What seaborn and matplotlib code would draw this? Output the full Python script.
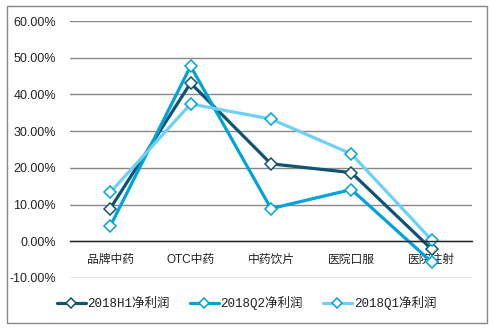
import matplotlib
matplotlib.use("Agg")
import matplotlib.pyplot as plt
import seaborn as sns
import pandas as pd
from matplotlib.patches import Rectangle
from matplotlib.ticker import FuncFormatter

categories = ["品牌中药", "OTC中药", "中药饮片", "医院口服", "医院注射"]
series_names = ["2018H1净利润", "2018Q2净利润", "2018Q1净利润"]
h1_values = [0.089, 0.431, 0.211, 0.187, -0.022]
q2_values = [0.041, 0.477, 0.089, 0.141, -0.057]
q1_values = [0.133, 0.374, 0.333, 0.238, 0.003]
y_ticks = [-0.10, 0.0, 0.10, 0.20, 0.30, 0.40, 0.50, 0.60]

line_colors = ["#0F5470", "#00A3DC", "#6FD0F5"]
edge_colors = ["#0F5470", "#00A3DC", "#00A3DC"]

sns.set_style("white")
plt.rcParams['font.family'] = ['Liberation Sans', 'Noto Sans CJK SC', 'DejaVu Sans']

fig = plt.figure(figsize=(4.93, 3.28), dpi=100)
ax = fig.add_axes([70/493, 1-278/328, 402/493, 257/328])

for name, vals, lc, ec in zip(series_names, [h1_values, q2_values, q1_values], line_colors, edge_colors):
    df = pd.DataFrame({"cat": categories, "val": vals})
    sns.lineplot(data=df, x="cat", y="val", ax=ax, color=lc, linewidth=2.3,
                 marker="D", markersize=6.5, markerfacecolor="white",
                 markeredgecolor=ec, markeredgewidth=1.1, label=name, sort=False)

ax.set_xlim(-0.5, 4.5)
ax.set_ylim(-0.10, 0.60)
ax.set_yticks(y_ticks)
ax.yaxis.set_major_formatter(FuncFormatter(lambda v, p: f"{v*100:.2f}%"))
ax.grid(axis="y", color="#868686", linewidth=1)
ax.set_axisbelow(True)
for s in ["left", "right", "top"]:
    ax.spines[s].set_visible(False)
ax.spines["bottom"].set_position(("data", 0))
ax.spines["bottom"].set_color("#222222")
ax.spines["bottom"].set_linewidth(1)
ax.tick_params(axis="both", length=0)
ax.tick_params(axis="y", pad=10, labelsize=9, labelcolor="#222222")
ax.tick_params(axis="x", pad=9, labelsize=8.5, labelcolor="#222222")
ax.set_xlabel("")
ax.set_ylabel("")

leg = ax.legend(loc="center", bbox_to_anchor=(0.50, 0.076), bbox_transform=fig.transFigure,
                ncol=3, frameon=False, handlelength=2.3, handletextpad=0.15, columnspacing=1.6,
                markerscale=0.85,
                prop={"family": ["Liberation Mono", "Noto Sans CJK SC"], "size": 9})
for t in leg.get_texts():
    t.set_color("#222222")

fig.patches.append(Rectangle((7/493, 1-323/328), 480/493, 317/328, transform=fig.transFigure,
                             fill=False, edgecolor="#868686", linewidth=1))

fig.savefig("out.png", dpi=100)
